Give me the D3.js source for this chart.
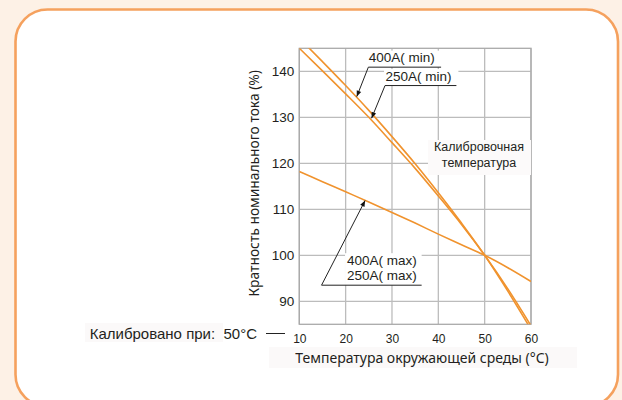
<!DOCTYPE html>
<html>
<head>
<meta charset="utf-8">
<script src="https://cdn.jsdelivr.net/npm/d3@7"></script>
<style>
  html, body { margin: 0; padding: 0; background: #fdf1e6; }
  svg { display: block; }
</style>
</head>
<body>
<svg id="chart" width="622" height="400"></svg>
<script>
// Ambient temperature (°C) sampled every 5 degrees
const temps = [10, 15, 20, 25, 30, 35, 40, 45, 50, 55, 60];
// Rated current multiple (%) for each breaker setting
const ratingMax = [118.2, 116.0, 113.8, 111.6, 109.3, 107.0, 104.6, 102.3, 100, 97.3, 94.3];
const rating250Min = [145.0, 140.1, 135.1, 130.0, 124.5, 118.9, 112.9, 106.7, 100, 92.7, 84.7];
const rating400Min = [147.2, 142.1, 136.9, 131.5, 125.8, 119.9, 113.6, 107.0, 100, 92.2, 83.9];

const xTicks = [10, 20, 30, 40, 50, 60];
const yTicks = [90, 100, 110, 120, 130, 140];
const xDomain = [10, 60];
const yDomain = [85, 145];

const xTitle = "Температура окружающей среды (°C)";
const yTitle = "Кратность номинального тока (%)";
const calibText = "Калибровано при:";
const calibValue = "50°C";
const calibNote = ["Калибровочная", "температура"];

const seriesList = [
  { name: "400A(max)", values: ratingMax },
  { name: "250A(min)", values: rating250Min },
  { name: "400A(min)", values: rating400Min }
];

// Callout labels: anchor = left end of underline, tip = point on the curve (data units)
const callouts = [
  { lines: ["400A( min)"], anchor: [24.9, 140.9], tip: [22.4, 134.5], lineEnd: 40.6 },
  { lines: ["250A( min)"], anchor: [28.5, 136.9], tip: [25.6, 129.8], lineEnd: 43.9 },
  { lines: ["400A( max)", "250A( max)"], anchor: [14.8, 93.5], tip: [24.2, 111.9], lineEnd: 36.4 }
];

const svg = d3.select("#chart");

// Card with rounded orange border
svg.append("rect")
  .attr("x", 15.5).attr("y", 9.5)
  .attr("width", 602.5).attr("height", 397)
  .attr("rx", 32).attr("ry", 32)
  .attr("fill", "#ffffff")
  .attr("stroke", "#f5a15e")
  .attr("stroke-width", 2.6);

const x = d3.scaleLinear().domain(xDomain).range([299.3, 531]);
const y = d3.scaleLinear().domain(yDomain).range([324.3, 48.3]);
const [x0, x1] = x.range();
const [y0, y1] = y.range();

const gridColor = "#bcbcbc";
const textColor = "#231f20";
const orange = "#f0932e";
const tickFont = "'Liberation Sans', Arial, sans-serif";
const titleFont = "'Noto Sans', 'Open Sans', sans-serif";

// Grid
const grid = svg.append("g");
grid.selectAll("line.v").data(xTicks).join("line")
  .attr("x1", d => x(d)).attr("x2", d => x(d))
  .attr("y1", y1).attr("y2", y0)
  .attr("stroke", gridColor).attr("stroke-width", 1.3);
grid.selectAll("line.h").data(yTicks).join("line")
  .attr("x1", x0).attr("x2", x1)
  .attr("y1", d => y(d)).attr("y2", d => y(d))
  .attr("stroke", gridColor).attr("stroke-width", 1.3);
// Frame
svg.append("rect")
  .attr("x", x0).attr("y", y1)
  .attr("width", x1 - x0).attr("height", y0 - y1)
  .attr("fill", "none").attr("stroke", "#a9a9a9").attr("stroke-width", 1.3);

// Axes (labels only)
const yAxis = svg.append("g")
  .attr("transform", `translate(${x0},0)`)
  .call(d3.axisLeft(y).tickValues(yTicks).tickSize(0).tickPadding(5));
const xAxis = svg.append("g")
  .attr("transform", `translate(0,${y0})`)
  .call(d3.axisBottom(x).tickValues(xTicks).tickSize(0).tickPadding(10));
[yAxis, xAxis].forEach(g => {
  g.select(".domain").remove();
  g.selectAll("text")
    .attr("fill", textColor)
    .style("font-family", tickFont);
});
yAxis.selectAll("text").style("font-size", "13.5px");
xAxis.selectAll("text").style("font-size", "12px");

// Label backgrounds that sit over the grid
const boxFill = "#ffffff";
const softFill = "#fbf9f9";

// Calibration temperature note
svg.append("rect")
  .attr("x", 428).attr("y", 140).attr("width", 103).attr("height", 35)
  .attr("fill", "#fcfafa");
svg.append("text")
  .attr("x", 479).attr("y", 151)
  .attr("text-anchor", "middle")
  .style("font-family", tickFont).style("font-size", "12.5px")
  .attr("fill", textColor)
  .selectAll("tspan").data(calibNote).join("tspan")
  .attr("x", 479).attr("dy", (d, i) => i === 0 ? 0 : 16)
  .text(d => d);

// Curves
svg.append("clipPath").attr("id", "plot-clip")
  .append("rect").attr("x", x0).attr("y", y1)
  .attr("width", x1 - x0).attr("height", y0 - y1);

const line = d3.line()
  .x((d, i) => x(temps[i]))
  .y(d => y(d))
  .curve(d3.curveMonotoneX);

svg.append("g").attr("clip-path", "url(#plot-clip)")
  .selectAll("path").data(seriesList).join("path")
  .attr("d", d => line(d.values))
  .attr("fill", "none")
  .attr("stroke", orange)
  .attr("stroke-width", 1.6);

// Callouts with leader arrows
svg.append("defs").append("marker")
  .attr("id", "arrow")
  .attr("viewBox", "0 0 10 10")
  .attr("refX", 10).attr("refY", 5)
  .attr("markerWidth", 8).attr("markerHeight", 6)
  .attr("markerUnits", "userSpaceOnUse")
  .attr("orient", "auto")
  .append("path").attr("d", "M0,1 L10,5 L0,9 Z").attr("fill", "#111");

callouts.forEach(c => {
  const ax = x(c.anchor[0]), ay = y(c.anchor[1]);
  const ex = x(c.lineEnd);
  const n = c.lines.length;
  const lineH = 15.5;
  const textX = n > 1 ? ax + 25.5 : ax + 0.5;
  // white background behind label
  svg.append("rect")
    .attr("x", n > 1 ? textX - 2 : ax - 1)
    .attr("y", ay - n * lineH - 1)
    .attr("width", n > 1 ? ex - textX + 2 : ex - ax + 3)
    .attr("height", n * lineH + 1)
    .attr("fill", boxFill);
  c.lines.forEach((t, i) => {
    svg.append("text")
      .attr("x", textX)
      .attr("y", ay - 5 - (n - 1 - i) * lineH)
      .style("font-family", tickFont).style("font-size", "13.5px")
      .attr("fill", textColor)
      .text(t);
  });
  svg.append("line")
    .attr("x1", ax).attr("x2", ex).attr("y1", ay).attr("y2", ay)
    .attr("stroke", "#222").attr("stroke-width", 1);
  svg.append("line")
    .attr("x1", ax).attr("y1", ay)
    .attr("x2", x(c.tip[0])).attr("y2", y(c.tip[1]))
    .attr("stroke", "#222").attr("stroke-width", 1)
    .attr("marker-end", "url(#arrow)");
});

// Axis titles
svg.append("rect").attr("x", 269).attr("y", 347).attr("width", 308).attr("height", 21).attr("fill", softFill);
svg.append("text")
  .attr("x", 422).attr("y", 363)
  .attr("text-anchor", "middle")
  .style("font-family", titleFont).style("font-size", "14px")
  .attr("fill", textColor)
  .text(xTitle);

svg.append("text")
  .attr("transform", `translate(259,${(y0 + y1) / 2 - 3}) rotate(-90)`)
  .attr("text-anchor", "middle")
  .style("font-family", titleFont).style("font-size", "13.8px")
  .attr("fill", textColor)
  .text(yTitle);

// Calibration reference on the left
svg.append("rect").attr("x", 85).attr("y", 323).attr("width", 138).attr("height", 19).attr("fill", softFill);
svg.append("text")
  .attr("x", 257).attr("y", 339)
  .attr("text-anchor", "end")
  .style("font-family", tickFont).style("font-size", "15px")
  .attr("fill", textColor)
  .style("white-space", "pre")
  .text(calibText + "  " + calibValue);
svg.append("line")
  .attr("x1", 266).attr("x2", 285).attr("y1", 333.5).attr("y2", 333.5)
  .attr("stroke", "#222").attr("stroke-width", 1);
</script>
</body>
</html>
